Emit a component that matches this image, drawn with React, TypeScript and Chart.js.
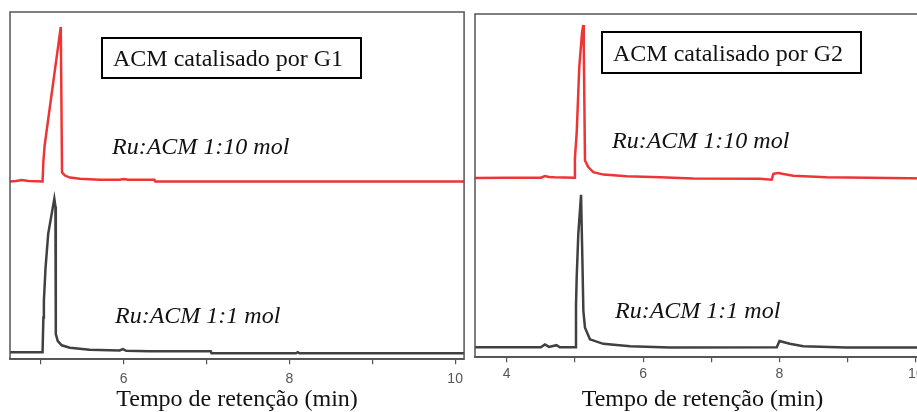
import React, { useEffect, useRef } from "react";
import { Chart, registerables } from "chart.js";

Chart.register(...registerables);

// ---- Data (retention time in min, signal in arbitrary offset units) ----
const g1Time10 = [4.627, 4.70, 4.77, 4.85, 5.02, 5.03, 5.045, 5.24, 5.255, 5.29, 5.35, 5.47, 5.71, 5.95, 6.0, 6.05, 6.37, 6.38, 8.0, 10.11];
const g1Signal10 = [51.2, 51.3, 51.6, 51.3, 51.2, 57.0, 61.5, 95.7, 53.8, 52.9, 52.3, 52.0, 51.7, 51.7, 51.9, 51.7, 51.7, 51.2, 51.2, 51.2];

const g1Time1 = [4.627, 5.02, 5.03, 5.036, 5.056, 5.088, 5.162, 5.175, 5.18, 5.204, 5.252, 5.349, 5.589, 5.95, 5.99, 6.03, 6.31, 7.05, 7.06, 8.08, 8.1, 8.12, 10.11];
const g1Signal1 = [2.0, 2.0, 12, 16.8, 26.3, 36.1, 46.2, 44, 7.2, 5.2, 4.0, 3.3, 2.7, 2.5, 2.9, 2.4, 2.3, 2.3, 1.7, 1.7, 2.0, 1.7, 1.7];

const g2Time10 = [3.535, 4.0, 4.50, 4.56, 4.62, 4.7, 4.99, 5.0, 5.026, 5.064, 5.104, 5.123, 5.13, 5.148, 5.196, 5.27, 5.417, 5.76, 6.25, 6.73, 7.71, 7.885, 7.91, 7.98, 8.2, 8.69, 10.207];
const g2Signal10 = [52.2, 52.3, 52.3, 52.8, 52.5, 52.4, 52.3, 58, 65.2, 84.5, 94.4, 96.8, 90, 57.3, 55.4, 53.9, 53.2, 52.7, 52.4, 52.1, 52.0, 51.7, 53.4, 53.7, 52.9, 52.4, 52.1];

const g2Time1 = [3.535, 4.5, 4.56, 4.62, 4.73, 4.78, 5.01, 5.016, 5.026, 5.05, 5.09, 5.11, 5.124, 5.148, 5.22, 5.416, 5.81, 6.39, 7.96, 8.0, 8.15, 8.35, 8.98, 10.207];
const g2Signal1 = [2.9, 2.9, 3.7, 3.0, 3.5, 2.9, 2.9, 15, 23.2, 36.0, 47.3, 28.1, 13.5, 8.6, 5.2, 3.9, 3.2, 2.8, 2.9, 4.7, 3.9, 3.2, 2.8, 2.8];

const axisTitle = "Tempo de retenção (min)";
const panelTitles = ["ACM catalisado por G1", "ACM catalisado por G2"];
const seriesLabels = ["Ru:ACM 1:10 mol", "Ru:ACM 1:1 mol"];

const RED = "#ee3535";
const DARK = "#404040";
const FRAME = "#555555";
const SERIF = "'Liberation Serif', 'Times New Roman', serif";

function pts(t: number[], v: number[]) {
  return t.map((x, i) => ({ x, y: v[i] }));
}

type Ann = {
  box: [number, number, number, number];
  title: [number, number];
  l10: [number, number];
  l1: [number, number];
};

function makeAnnPlugin(idx: number, ann: Ann) {
  return {
    id: "ann" + idx,
    afterDraw(chart: any) {
      const ctx = chart.ctx;
      const a = chart.chartArea;
      ctx.save();
      ctx.strokeStyle = FRAME;
      ctx.lineWidth = 1.5;
      ctx.strokeRect(a.left, a.top, a.right - a.left, a.bottom - a.top);
      ctx.strokeStyle = "#000";
      ctx.lineWidth = 2;
      const [bx, by, bw, bh] = ann.box;
      ctx.strokeRect(bx, by, bw, bh);
      ctx.fillStyle = "#111";
      ctx.textBaseline = "alphabetic";
      ctx.textAlign = "left";
      ctx.font = "24px " + SERIF;
      ctx.fillText(panelTitles[idx], ann.title[0], ann.title[1]);
      ctx.font = "italic 24px " + SERIF;
      ctx.fillText(seriesLabels[0], ann.l10[0], ann.l10[1]);
      ctx.fillText(seriesLabels[1], ann.l1[0], ann.l1[1]);
      ctx.restore();
    },
  };
}

function makeConfig(
  idx: number,
  red: { x: number; y: number }[],
  dark: { x: number; y: number }[],
  xmin: number,
  xmax: number,
  padding: { left: number; right: number; top: number; bottom: number },
  tickPad: number,
  titleTop: number,
  ann: Ann
): any {
  return {
    type: "line",
    data: {
      datasets: [
        { data: red, borderColor: RED, borderWidth: 2.5, pointRadius: 0, tension: 0, fill: false },
        { data: dark, borderColor: DARK, borderWidth: 2.5, pointRadius: 0, tension: 0, fill: false },
      ],
    },
    options: {
      animation: false,
      responsive: false,
      maintainAspectRatio: false,
      layout: { padding },
      plugins: { legend: { display: false }, tooltip: { enabled: false } },
      scales: {
        x: {
          type: "linear",
          min: xmin,
          max: xmax,
          grid: { drawOnChartArea: false, drawTicks: true, tickLength: 5, color: FRAME, lineWidth: 1.2 },
          border: { display: true, color: FRAME, width: 1.5 },
          ticks: {
            stepSize: 1,
            includeBounds: false,
            autoSkip: false,
            maxRotation: 0,
            padding: tickPad,
            color: "#555",
            font: { family: "'Liberation Sans', Arial, sans-serif", size: 14 },
            callback: (v: number) => (Math.round(v) % 2 === 0 ? String(Math.round(v)) : ""),
          },
          title: {
            display: true,
            text: axisTitle,
            color: "#111",
            font: { family: SERIF, size: 24, lineHeight: 1 },
            padding: { top: titleTop, bottom: 0 },
          },
        },
        y: { display: false, min: 0, max: 100 },
      },
    },
    plugins: [makeAnnPlugin(idx, ann)],
  };
}

export default function App() {
  const c1 = useRef<HTMLCanvasElement>(null);
  const c2 = useRef<HTMLCanvasElement>(null);

  useEffect(() => {
    const ch1 = new Chart(
      c1.current!,
      makeConfig(
        0,
        pts(g1Time10, g1Signal10),
        pts(g1Time1, g1Signal1),
        4.627,
        10.108,
        { left: 10, right: 4, top: 12, bottom: 0 },
        7,
        -7,
        { box: [102, 38, 259, 40], title: [113, 66], l10: [112, 154], l1: [115, 323] }
      )
    );
    const ch2 = new Chart(
      c2.current!,
      makeConfig(
        1,
        pts(g2Time10, g2Signal10),
        pts(g2Time1, g2Signal1),
        3.535,
        10.207,
        { left: 10, right: 5, top: 14, bottom: 0 },
        4,
        1,
        { box: [137, 32, 259, 41], title: [148, 61], l10: [147, 148], l1: [150, 318] }
      )
    );
    return () => {
      ch1.destroy();
      ch2.destroy();
    };
  }, []);

  return (
    <div style={{ position: "fixed", left: 0, top: 0, width: 917, height: 412, overflow: "hidden", background: "#fff" }}>
      <canvas ref={c1} width={470} height={412} style={{ position: "absolute", left: 0, top: 0, width: 470, height: 412 }} />
      <canvas ref={c2} width={470} height={412} style={{ position: "absolute", left: 465, top: 0, width: 470, height: 412 }} />
    </div>
  );
}
